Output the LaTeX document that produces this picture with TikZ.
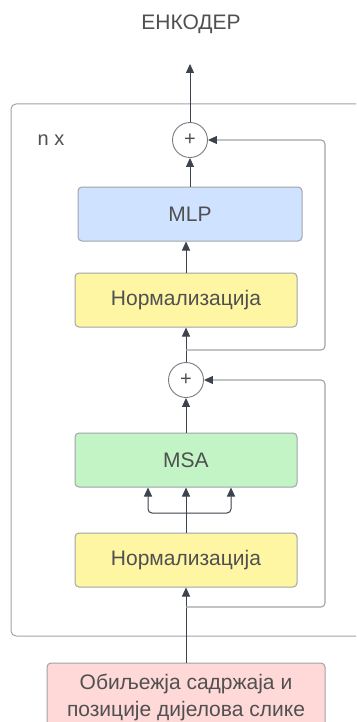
\documentclass[tikz,border=0pt]{standalone}
\usepackage{fontspec}
\setmainfont{Liberation Sans}
\usetikzlibrary{arrows.meta,calc}
\definecolor{edgegray}{HTML}{3D434C}
\definecolor{framegray}{HTML}{A0A3A8}
\definecolor{txtgray}{HTML}{505050}
\definecolor{mlpblue}{HTML}{CFE2FF}
\definecolor{normyellow}{HTML}{FFF6A3}
\definecolor{msagreen}{HTML}{C3F4C6}
\definecolor{inred}{HTML}{FFD8D8}
\tikzset{
  block/.style={draw=framegray, line width=1pt, rounded corners=4pt,
    minimum width=222pt, minimum height=54pt, text=txtgray,
    font=\fontsize{21}{25}\selectfont, inner sep=0pt},
  sumnode/.style={circle, draw=edgegray!70, line width=0.9pt, fill=white,
    minimum size=35pt, inner sep=0pt, text=txtgray,
    font=\fontsize{20}{22}\selectfont},
  conn/.style={draw=edgegray, line width=1pt},
  arr/.style={conn, -{Triangle[length=9pt,width=8pt]}},
  skip/.style={draw=framegray, line width=1.1pt, rounded corners=4pt,
    -{Triangle[length=9pt,width=8pt,fill=edgegray,color=edgegray]}},
  label/.style={text=txtgray, font=\fontsize{20}{24}\selectfont}
}
\begin{document}
\begin{tikzpicture}[x=1pt,y=-1pt]
\useasboundingbox (0,0) rectangle (356,722);
\clip (0,0) rectangle (356,722);
\fill[white] (0,0) rectangle (356,722);

% repeated encoder block frame
\draw[framegray, line width=1pt, rounded corners=5pt] (11,104) rectangle (380,636);
\node[label] (nx) at (51,140) {n x};
\node[label, font=\fontsize{21}{24}\selectfont] (title) at (191,24) {ЕНКОДЕР};

% blocks
\node[sumnode] (c1) at (190,140) {+};
\node[block, fill=mlpblue, minimum width=224pt] (mlp) at (190,214) {MLP};
\node[block, fill=normyellow] (norm1) at (186,300) {Нормализација};
\node[sumnode] (c2) at (186,380) {+};
\node[block, fill=msagreen] (msa) at (186,460) {MSA};
\node[block, fill=normyellow] (norm2) at (186,560) {Нормализација};
\node[block, fill=inred, minimum width=278pt, minimum height=74pt] (inp) at (186,700) {};
\node[text=txtgray, align=center, inner sep=0pt,
      font=\fontsize{21}{27}\selectfont] (inptext) at (186,697)
      {Обиљежја садржаја и\\позиције дијелова слике};

% helper points
\coordinate (out) at (190,64);
\coordinate (s1) at (186,607);
\coordinate (s2) at (186,350);
\coordinate (split) at (186,513);

% main path
\draw[arr] (inp.north) -- (norm2.south);
\draw[arr] (norm2.north) -- (msa.south);
\draw[arr, rounded corners=4pt] (split) -| ([xshift=-38pt]msa.south);
\draw[arr, rounded corners=4pt] (split) -| ([xshift=45pt]msa.south);
\draw[arr] (msa.north) -- (c2.south);
\draw[arr] (c2.north) -- (norm1.south);
\draw[arr] (norm1.north) -- (norm1.north |- mlp.south);
\draw[arr] (mlp.north) -- (c1.south);
\draw[arr] (c1.north) -- (out);

% residual connections
\draw[skip] (s1) -- (325,607) -- (325,380) -- (c2.east);
\draw[skip] (s2) -- (325,350) -- (325,140) -- (c1.east);
\end{tikzpicture}
\end{document}
